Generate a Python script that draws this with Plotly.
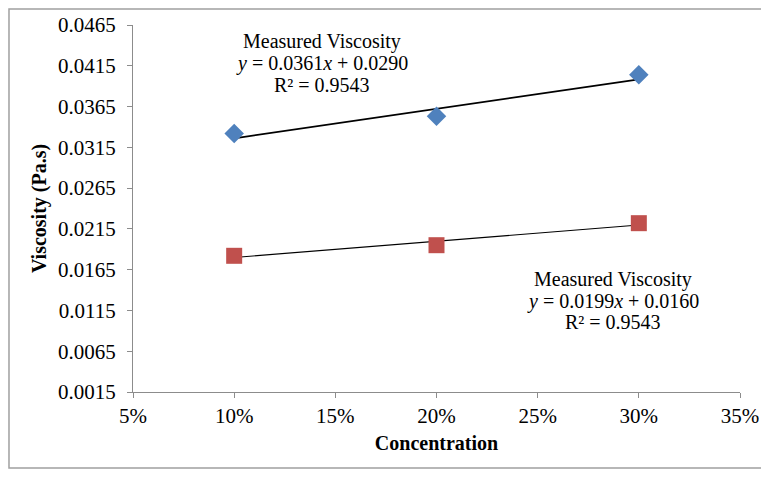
import numpy as np
import plotly.graph_objects as go

concentration = [0.10, 0.20, 0.30]
visc_blue = [0.0332, 0.0353, 0.0404]
visc_red = [0.0182, 0.0195, 0.0222]
fit_blue = (0.0361, 0.0290)
fit_red = (0.0199, 0.0160)
y_ticks = [0.0015, 0.0065, 0.0115, 0.0165, 0.0215, 0.0265, 0.0315, 0.0365, 0.0415, 0.0465]
x_ticks = [0.05, 0.10, 0.15, 0.20, 0.25, 0.30, 0.35]
label_blue = ["Measured Viscosity", "<i>y</i> = 0.0361<i>x</i> + 0.0290", "R² = 0.9543"]
label_red = ["Measured Viscosity", "<i>y</i> = 0.0199<i>x</i> + 0.0160", "R² = 0.9543"]

FONT = "Liberation Serif, Times New Roman, serif"

fig = go.Figure()

xs = np.array([concentration[0], concentration[-1]])
fig.add_trace(go.Scatter(x=xs, y=fit_blue[0] * xs + fit_blue[1], mode="lines",
                         line=dict(color="black", width=1.8), showlegend=False, hoverinfo="skip"))
fig.add_trace(go.Scatter(x=xs, y=fit_red[0] * xs + fit_red[1], mode="lines",
                         line=dict(color="black", width=1.1), showlegend=False, hoverinfo="skip"))
fig.add_trace(go.Scatter(x=concentration, y=visc_blue, mode="markers",
                         marker=dict(symbol="diamond", size=15, color="#4F81BD"),
                         name="Measured Viscosity", showlegend=False))
fig.add_trace(go.Scatter(x=concentration, y=visc_red, mode="markers",
                         marker=dict(symbol="square", size=16, color="#C0504D"),
                         name="Measured Viscosity", showlegend=False))

for txt, yy in zip(label_blue, [0.04443, 0.04173, 0.03916]):
    fig.add_annotation(x=0.1434, y=yy, xref="x", yref="y", text=txt, showarrow=False,
                       font=dict(family=FONT, size=20, color="black"),
                       xanchor="center", yanchor="middle")
for txt, yy in zip(label_red, [0.01526, 0.01257, 0.01012]):
    fig.add_annotation(x=0.2870, y=yy, xref="x", yref="y", text=txt, showarrow=False,
                       font=dict(family=FONT, size=20, color="black"),
                       xanchor="center", yanchor="middle")

# outer chart frame (left, top and bottom edges only)
fig.add_shape(type="path", xref="paper", yref="paper",
              path="M 1.06,1.0436 L -0.2043,1.0436 L -0.2043,-0.2071 L 1.06,-0.2071",
              line=dict(color="#A0A0A0", width=1.5), layer="below")

fig.update_layout(
    width=753, height=461,
    margin=dict(l=125, r=21, t=17, b=77, autoexpand=False),
    paper_bgcolor="white", plot_bgcolor="white",
    font=dict(family=FONT, size=21, color="black"),
    xaxis=dict(range=[0.05, 0.35], tickvals=x_ticks, tickformat=".0%",
               showgrid=False, zeroline=False, showline=True, linecolor="#8C8C8C", linewidth=1,
               ticks="outside", ticklen=5, tickcolor="#8C8C8C",
               tickfont=dict(family=FONT, size=21),
               title=dict(text="<b>Concentration</b>", font=dict(family=FONT, size=20), standoff=8)),
    yaxis=dict(range=[0.0015, 0.0465], tickvals=y_ticks, tickformat=".4f",
               showgrid=False, zeroline=False, showline=True, linecolor="#8C8C8C", linewidth=1,
               ticks="outside", ticklen=5, tickcolor="#8C8C8C", ticklabelstandoff=7,
               tickfont=dict(family=FONT, size=21),
               title=dict(text="<b>Viscosity (Pa.s)</b>", font=dict(family=FONT, size=20), standoff=6)),
)

fig.write_html("out.html")
